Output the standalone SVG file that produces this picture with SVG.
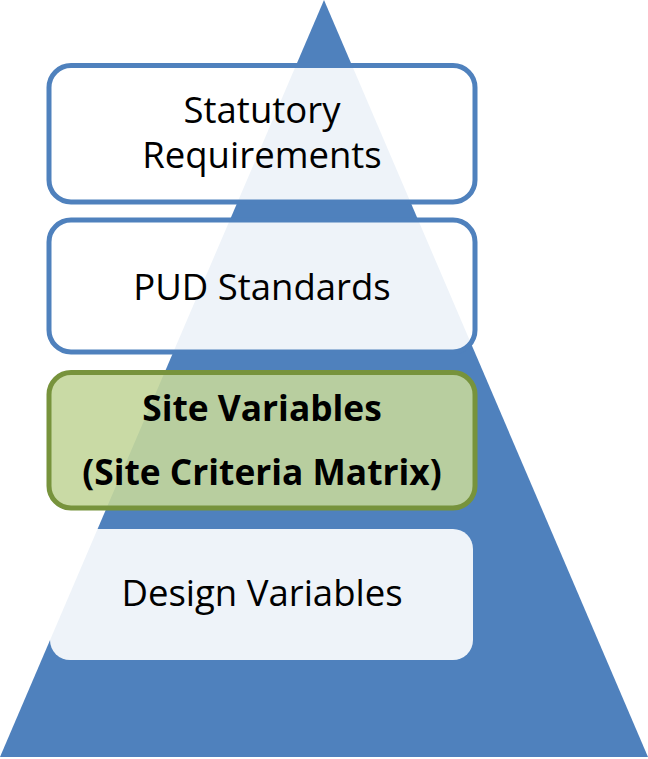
<svg xmlns="http://www.w3.org/2000/svg" width="648" height="759" viewBox="0 0 648 759">
<style>
.box{fill:#ffffff;fill-opacity:0.9;stroke:#4F81BD;stroke-width:5}
.boxn{fill:#ffffff;fill-opacity:0.9}
.green{fill:#C3D69B;fill-opacity:0.9;stroke:#77933C;stroke-width:5}
.t{font-family:"Open Sans","Liberation Sans",sans-serif;font-size:36.5px;fill:#000;text-anchor:middle}
.b{font-weight:bold;font-size:35.3px}
</style>
<g id="pyramid"><polygon points="324,0 0,757 648,757" fill="#4F81BD"/></g>
<g id="connectors"></g>
<g id="statutory">
<rect class="box" x="49" y="65.5" width="426" height="136.5" rx="22"/>
<text class="t" x="262" y="123">Statutory</text>
<text class="t" x="262" y="168">Requirements</text>
</g>
<g id="pud">
<rect class="box" x="49" y="220" width="426" height="132" rx="22"/>
<text class="t" x="262" y="300">PUD Standards</text>
</g>
<g id="site">
<rect class="green" x="49" y="372.5" width="426" height="135.5" rx="22"/>
<text class="t b" x="262" y="421">Site Variables</text>
<text class="t b" x="262" y="485">(Site Criteria Matrix)</text>
</g>
<g id="design">
<rect class="boxn" x="50" y="529" width="423" height="131" rx="20"/>
<text class="t" x="262" y="606">Design Variables</text>
</g>
</svg>
